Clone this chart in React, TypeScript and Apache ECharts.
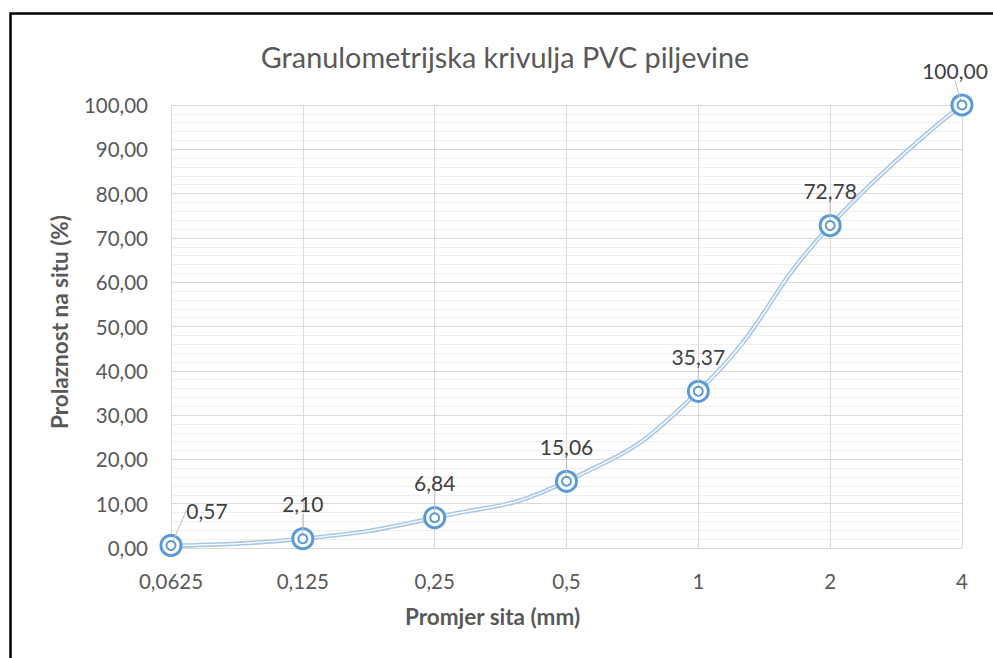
import React, { useEffect, useRef } from "react";
import * as echarts from "echarts";

const categories = ["0,0625", "0,125", "0,25", "0,5", "1", "2", "4"];
const passing = [0.57, 2.1, 6.84, 15.06, 35.37, 72.78, 100.0];
const yTicks = { min: 0, max: 100, interval: 10 };

const FONT = "Lato";
const fmt = (v: number) => v.toFixed(2).replace(".", ",");

export default function App() {
  const ref = useRef<HTMLDivElement>(null);
  useEffect(() => {
    const chart = echarts.init(ref.current!, undefined, { renderer: "svg" });
    chart.setOption({
      animation: false,
      backgroundColor: "#ffffff",
      textStyle: { fontFamily: FONT },
      title: {
        text: "Granulometrijska krivulja PVC piljevine",
        left: 500,
        top: 37,
        textAlign: "center",
        textStyle: { fontFamily: FONT, fontSize: 28.8, fontWeight: "normal", color: "#595959" },
      },
      graphic: [
        {
          type: "rect",
          shape: { x: 10.5, y: 13.5, width: 1100, height: 800 },
          style: { fill: "none", stroke: "#000000", lineWidth: 2.5 },
          z: 100,
        },
      ],
      grid: { left: 171, right: 31, top: 105, bottom: 110, containLabel: false },
      xAxis: {
        type: "category",
        data: categories,
        boundaryGap: false,
        name: "Promjer sita (mm)",
        nameLocation: "middle",
        nameGap: 57,
        nameTextStyle: {
          fontFamily: FONT,
          fontSize: 22.5,
          fontWeight: "bold",
          color: "#595959",
          padding: [0, 148, 0, 0],
        },
        axisLine: { show: true, lineStyle: { color: "#d9d9d9", width: 1 } },
        axisTick: { show: false },
        axisLabel: { fontFamily: FONT, fontSize: 20.5, color: "#595959", margin: 22 },
        splitLine: { show: true, lineStyle: { color: "#d9d9d9", width: 1 } },
      },
      yAxis: {
        type: "value",
        min: yTicks.min,
        max: yTicks.max,
        interval: yTicks.interval,
        name: "Prolaznost na situ (%)",
        nameLocation: "middle",
        nameGap: 100,
        nameTextStyle: {
          fontFamily: FONT,
          fontSize: 22.5,
          fontWeight: "bold",
          color: "#595959",
          padding: [0, 0, 0, 9],
        },
        axisLine: { show: false },
        axisTick: { show: false },
        axisLabel: { fontFamily: FONT, fontSize: 20.5, color: "#595959", margin: 23, formatter: (v: number) => fmt(v) },
        splitLine: { show: true, lineStyle: { color: "#d9d9d9", width: 1 } },
        minorTick: { show: false, splitNumber: 5 },
        minorSplitLine: { show: true, lineStyle: { color: "#efefef", width: 1 } },
      },
      series: [
        {
          type: "line",
          data: passing,
          smooth: true,
          showSymbol: false,
          symbol: "none",
          lineStyle: { color: "#a9c8e8", width: 4.5 },
          z: 2,
        },
        {
          type: "line",
          data: passing,
          smooth: true,
          symbol: "circle",
          symbolSize: 20,
          itemStyle: { color: "#ffffff", borderColor: "#5b9bd5", borderWidth: 3 },
          lineStyle: { color: "#ffffff", width: 1.3 },
          z: 3,
        },
        {
          type: "scatter",
          data: passing,
          symbol: "circle",
          symbolSize: 9,
          itemStyle: { color: "#ffffff", borderColor: "#5b9bd5", borderWidth: 2, opacity: 1 },
          label: {
            show: true,
            position: "top",
            distance: 19,
            fontFamily: FONT,
            fontSize: 21,
            color: "#404040",
            formatter: (p: any) => fmt(p.value as number),
          },
          labelLayout: (p: any) =>
            p.dataIndex === 0
              ? { dx: 36, dy: 0 }
              : p.dataIndex === passing.length - 1
              ? { dx: -7, dy: 0 }
              : {},
          labelLine: { show: true, lineStyle: { color: "#bfbfbf", width: 1 } },
          z: 4,
        },
      ],
    });
    return () => chart.dispose();
  }, []);
  return (
    <div
      ref={ref}
      style={{ position: "fixed", left: 0, top: 0, width: 993, height: 658 }}
    />
  );
}
